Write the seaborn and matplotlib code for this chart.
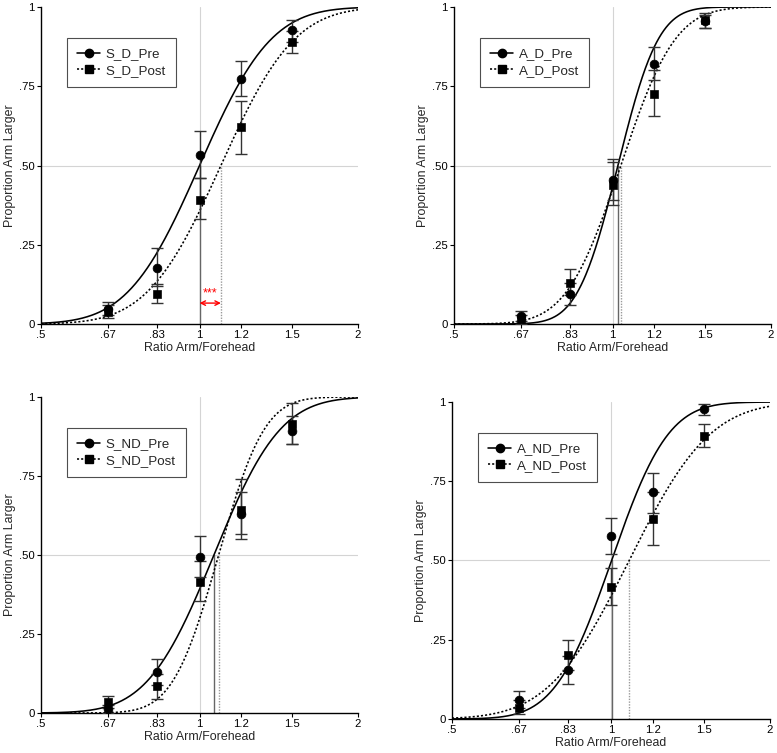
import math
import numpy as np
import pandas as pd
import matplotlib
matplotlib.use("Agg")
import matplotlib.pyplot as plt
from matplotlib.lines import Line2D
import seaborn as sns

sns.set_style("ticks")
plt.rcParams['font.family'] = ['Liberation Sans', 'DejaVu Sans']

# ---- data ----
ratios = [0.67, 0.83, 1.0, 1.2, 1.5]
xtick_vals = [0.5, 0.67, 0.83, 1.0, 1.2, 1.5, 2.0]
xtick_labels = [".5", ".67", ".83", "1", "1.2", "1.5", "2"]
ytick_vals = [0, 0.25, 0.5, 0.75, 1.0]
ytick_labels = ["0", ".25", ".50", ".75", "1"]

panel_names = [("S_D_Pre", "S_D_Post"), ("A_D_Pre", "A_D_Post"),
               ("S_ND_Pre", "S_ND_Post"), ("A_ND_Pre", "A_ND_Post")]

# observed proportions
pre_mean = [[0.048, 0.177, 0.533, 0.772, 0.928],
            [0.025, 0.094, 0.455, 0.820, 0.955],
            [0.012, 0.130, 0.495, 0.630, 0.893],
            [0.060, 0.155, 0.578, 0.715, 0.978]]
pre_lo = [[0.030, 0.120, 0.460, 0.720, 0.890],
          [0.010, 0.060, 0.390, 0.770, 0.935],
          [0.000, 0.090, 0.430, 0.565, 0.850],
          [0.035, 0.110, 0.520, 0.650, 0.960]]
pre_hi = [[0.070, 0.240, 0.610, 0.830, 0.960],
          [0.040, 0.130, 0.520, 0.875, 0.975],
          [0.025, 0.170, 0.560, 0.700, 0.940],
          [0.088, 0.200, 0.635, 0.775, 0.995]]
post_mean = [[0.038, 0.094, 0.390, 0.620, 0.890],
             [0.015, 0.130, 0.440, 0.727, 0.958],
             [0.035, 0.084, 0.416, 0.642, 0.916],
             [0.036, 0.202, 0.417, 0.630, 0.894]]
post_lo = [[0.020, 0.065, 0.330, 0.535, 0.855],
           [0.000, 0.090, 0.375, 0.655, 0.935],
           [0.015, 0.045, 0.355, 0.550, 0.850],
           [0.015, 0.155, 0.360, 0.550, 0.857]]
post_hi = [[0.060, 0.125, 0.460, 0.705, 0.925],
           [0.030, 0.175, 0.510, 0.800, 0.980],
           [0.055, 0.125, 0.480, 0.740, 0.980],
           [0.060, 0.250, 0.475, 0.715, 0.930]]

# fitted psychometric parameters (PSE and spread in log2 units)
pre_pse = [1.000, 1.024, 1.065, 1.003]
pre_sigma = [0.355, 0.200, 0.330, 0.280]
post_pse = [1.098, 1.037, 1.087, 1.083]
post_sigma = [0.365, 0.270, 0.227, 0.400]

# axes positions (left, bottom, width, height)
positions = [(0.0528, 0.5697, 0.408, 0.421),
             (0.5843, 0.5697, 0.408, 0.421),
             (0.0528, 0.0531, 0.408, 0.4197),
             (0.5817, 0.0452, 0.409, 0.4209)]

fig = plt.figure(figsize=(7.77, 7.53), dpi=100)

xs = np.exp(np.linspace(np.log(0.5), np.log(2.0), 400))
ncdf = np.vectorize(lambda z: 0.5 * (1 + math.erf(z / math.sqrt(2))))

for i in range(4):
    ax = fig.add_axes(positions[i])
    ax.set_xscale("log")
    ax.set_xlim(0.5, 2.0)
    ax.set_ylim(0, 1)
    # reference grid lines
    ax.axvline(1.0, color="#d4d4d4", lw=0.8, zorder=0)
    ax.axhline(0.5, color="#d4d4d4", lw=0.8, zorder=0)
    # PSE markers
    ax.plot([pre_pse[i], pre_pse[i]], [0, 0.5], color="#666666", lw=1.0, zorder=1)
    ax.plot([post_pse[i], post_pse[i]], [0, 0.5], color="#9a9a9a", lw=1.0,
            ls=(0, (1, 1)), zorder=1)

    pre_curve = ncdf((np.log2(xs) - np.log2(pre_pse[i])) / pre_sigma[i])
    post_curve = ncdf((np.log2(xs) - np.log2(post_pse[i])) / post_sigma[i])
    df = pd.DataFrame({"x": np.concatenate([xs, xs]),
                       "y": np.concatenate([pre_curve, post_curve]),
                       "cond": ["Pre"] * len(xs) + ["Post"] * len(xs)})
    sns.lineplot(data=df, x="x", y="y", style="cond",
                 dashes={"Pre": "", "Post": (1.3, 1.3)},
                 color="black", lw=1.15, legend=False, ax=ax, zorder=3)

    pm = np.array(pre_mean[i]); qm = np.array(post_mean[i])
    ax.errorbar(ratios, pm, yerr=[pm - np.array(pre_lo[i]), np.array(pre_hi[i]) - pm],
                fmt="none", ecolor="#333333", elinewidth=1.0, capsize=4, capthick=1.0, zorder=4)
    ax.errorbar(ratios, qm, yerr=[qm - np.array(post_lo[i]), np.array(post_hi[i]) - qm],
                fmt="none", ecolor="#333333", elinewidth=1.0, capsize=4, capthick=1.0, zorder=4)
    sns.scatterplot(x=ratios, y=pm, marker="o", s=40, color="black", edgecolor="black",
                    ax=ax, zorder=5)
    sns.scatterplot(x=ratios, y=qm, marker="s", s=34, color="black", edgecolor="black",
                    ax=ax, zorder=5)

    ax.xaxis.set_minor_locator(matplotlib.ticker.NullLocator())
    ax.set_xticks(xtick_vals)
    ax.set_xticklabels(xtick_labels)
    ax.set_yticks(ytick_vals)
    ax.set_yticklabels(ytick_labels)
    ax.tick_params(axis="both", labelsize=8.2, length=3, width=0.8, pad=1.5, colors="black")
    ax.set_xlabel("Ratio Arm/Forehead", fontsize=8.9, labelpad=1)
    ax.set_ylabel("Proportion Arm Larger", fontsize=8.9, labelpad=2.5)
    sns.despine(ax=ax)
    for s in ["left", "bottom"]:
        ax.spines[s].set_linewidth(1.0)
        ax.spines[s].set_color("black")

    handles = [Line2D([], [], color="black", lw=1.15, marker="o", markersize=6,
                      label=panel_names[i][0]),
               Line2D([], [], color="black", lw=1.15, ls=(0, (1.3, 1.3)), marker="s",
                      markersize=5.2, label=panel_names[i][1])]
    leg = ax.legend(handles=handles, loc="upper left", bbox_to_anchor=(0.082, 0.902),
                    prop={"size": 9.6}, frameon=True, fancybox=False, handlelength=1.75,
                    handletextpad=0.4, borderpad=0.75, labelspacing=0.3,
                    borderaxespad=0)
    leg.get_frame().set_edgecolor("#222222")
    leg.get_frame().set_linewidth(0.8)

    if i == 0:
        ax.annotate("", xy=(1.0, 0.066), xytext=(post_pse[0], 0.066),
                    arrowprops=dict(arrowstyle="<->", color="red", lw=1.0,
                                    shrinkA=0, shrinkB=0, mutation_scale=8))
        ax.text(np.sqrt(1.0 * post_pse[0]), 0.076, "***", color="red", fontsize=9,
                ha="center", va="bottom")

fig.savefig("out.png", dpi=100)
